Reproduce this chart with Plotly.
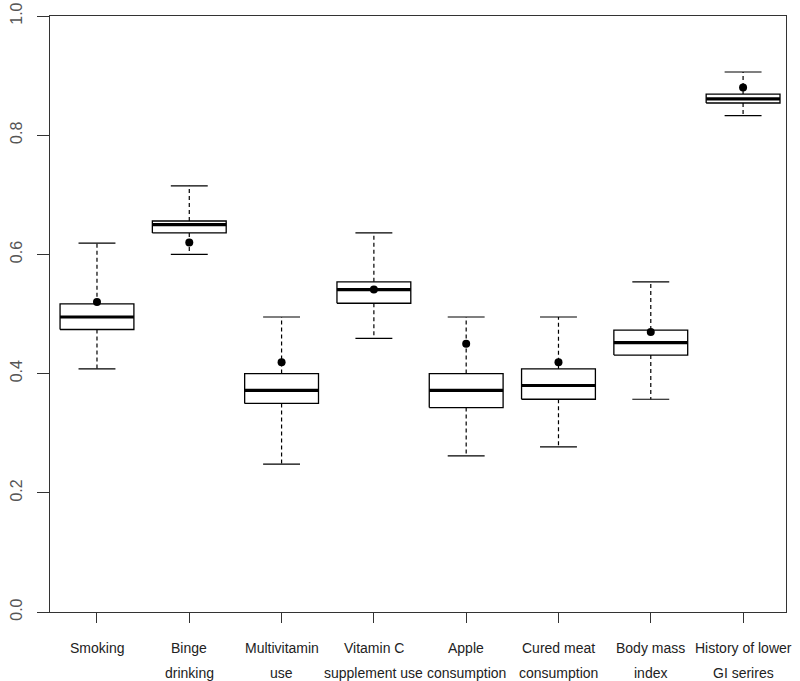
import plotly.graph_objects as go

# ---- data ----
categories = ["Smoking", "Binge\ndrinking", "Multivitamin\nuse", "Vitamin C\nsupplement use",
              "Apple\nconsumption", "Cured meat\nconsumption", "Body mass\nindex",
              "History of lower\nGI serires"]
lower_whisker = [0.408, 0.600, 0.248, 0.459, 0.262, 0.277, 0.357, 0.833]
q1            = [0.474, 0.636, 0.350, 0.518, 0.343, 0.357, 0.431, 0.854]
median        = [0.495, 0.650, 0.372, 0.541, 0.372, 0.380, 0.452, 0.861]
q3            = [0.517, 0.656, 0.400, 0.554, 0.400, 0.408, 0.473, 0.869]
upper_whisker = [0.619, 0.715, 0.495, 0.636, 0.495, 0.495, 0.554, 0.906]
mean_point    = [0.520, 0.620, 0.419, 0.541, 0.450, 0.419, 0.470, 0.880]
y_ticks = [0.0, 0.2, 0.4, 0.6, 0.8, 1.0]
y_tick_labels = ["0.0", "0.2", "0.4", "0.6", "0.8", "1.0"]

BOX_HALF = 0.4
CAP_HALF = 0.2
xs = list(range(1, len(categories) + 1))

box_x, box_y = [], []
med_x, med_y = [], []
wh_x, wh_y = [], []
cap_x, cap_y = [], []
for i, x in enumerate(xs):
    box_x += [x - BOX_HALF, x + BOX_HALF, x + BOX_HALF, x - BOX_HALF, x - BOX_HALF, None]
    box_y += [q1[i], q1[i], q3[i], q3[i], q1[i], None]
    med_x += [x - BOX_HALF, x + BOX_HALF, None]
    med_y += [median[i], median[i], None]
    wh_x += [x, x, None, x, x, None]
    wh_y += [q3[i], upper_whisker[i], None, q1[i], lower_whisker[i], None]
    cap_x += [x - CAP_HALF, x + CAP_HALF, None, x - CAP_HALF, x + CAP_HALF, None]
    cap_y += [upper_whisker[i], upper_whisker[i], None, lower_whisker[i], lower_whisker[i], None]

fig = go.Figure()
fig.add_trace(go.Scatter(x=wh_x, y=wh_y, mode="lines", cliponaxis=False,
                         line=dict(color="black", width=1.2, dash="4px,3px"), hoverinfo="skip"))
fig.add_trace(go.Scatter(x=cap_x, y=cap_y, mode="lines", cliponaxis=False,
                         line=dict(color="black", width=1.2), hoverinfo="skip"))
fig.add_trace(go.Scatter(x=box_x, y=box_y, mode="lines", cliponaxis=False,
                         line=dict(color="black", width=1.3), hoverinfo="skip"))
fig.add_trace(go.Scatter(x=med_x, y=med_y, mode="lines", cliponaxis=False,
                         line=dict(color="black", width=3.2), hoverinfo="skip"))
fig.add_trace(go.Scatter(x=xs, y=mean_point, mode="markers", cliponaxis=False,
                         marker=dict(color="black", size=8, symbol="circle"), hoverinfo="skip"))

font_family = "Liberation Sans, Arial, sans-serif"
for x, lab in zip(xs, categories):
    for k, line in enumerate(lab.split("\n")):
        fig.add_annotation(x=x, xref="x", y=0, yref="paper", yanchor="middle",
                           yshift=-36 - 25 * k, text=line, showarrow=False,
                           font=dict(family=font_family, size=14, color="#222"))

fig.update_layout(
    width=800, height=681,
    margin=dict(l=50, r=14, t=16, b=69, autoexpand=False),
    paper_bgcolor="white", plot_bgcolor="white",
    showlegend=False,
    font=dict(family=font_family, color="#444"),
)
fig.update_xaxes(range=[0.491, 8.465], tickvals=xs, ticktext=[""] * len(xs),
                 automargin=False,
                 showgrid=False, zeroline=False, showline=True, mirror=True,
                 linecolor="#333", linewidth=1.3, ticks="outside", ticklen=10,
                 tickcolor="#333", tickwidth=1.2)
fig.update_yaxes(range=[0, 1], tickvals=y_ticks, ticktext=y_tick_labels,
                 automargin=False,
                 tickangle=-90, showgrid=False, zeroline=False, showline=True, mirror=True,
                 linecolor="#333", linewidth=1.3, ticks="outside", ticklen=12,
                 tickcolor="#333", tickwidth=1.2, ticklabelstandoff=8,
                 tickfont=dict(family=font_family, size=16, color="#555"))

fig.write_html("out.html", config={"displayModeBar": False},
               post_script="document.body.style.margin='0';document.body.style.overflow='hidden';")
